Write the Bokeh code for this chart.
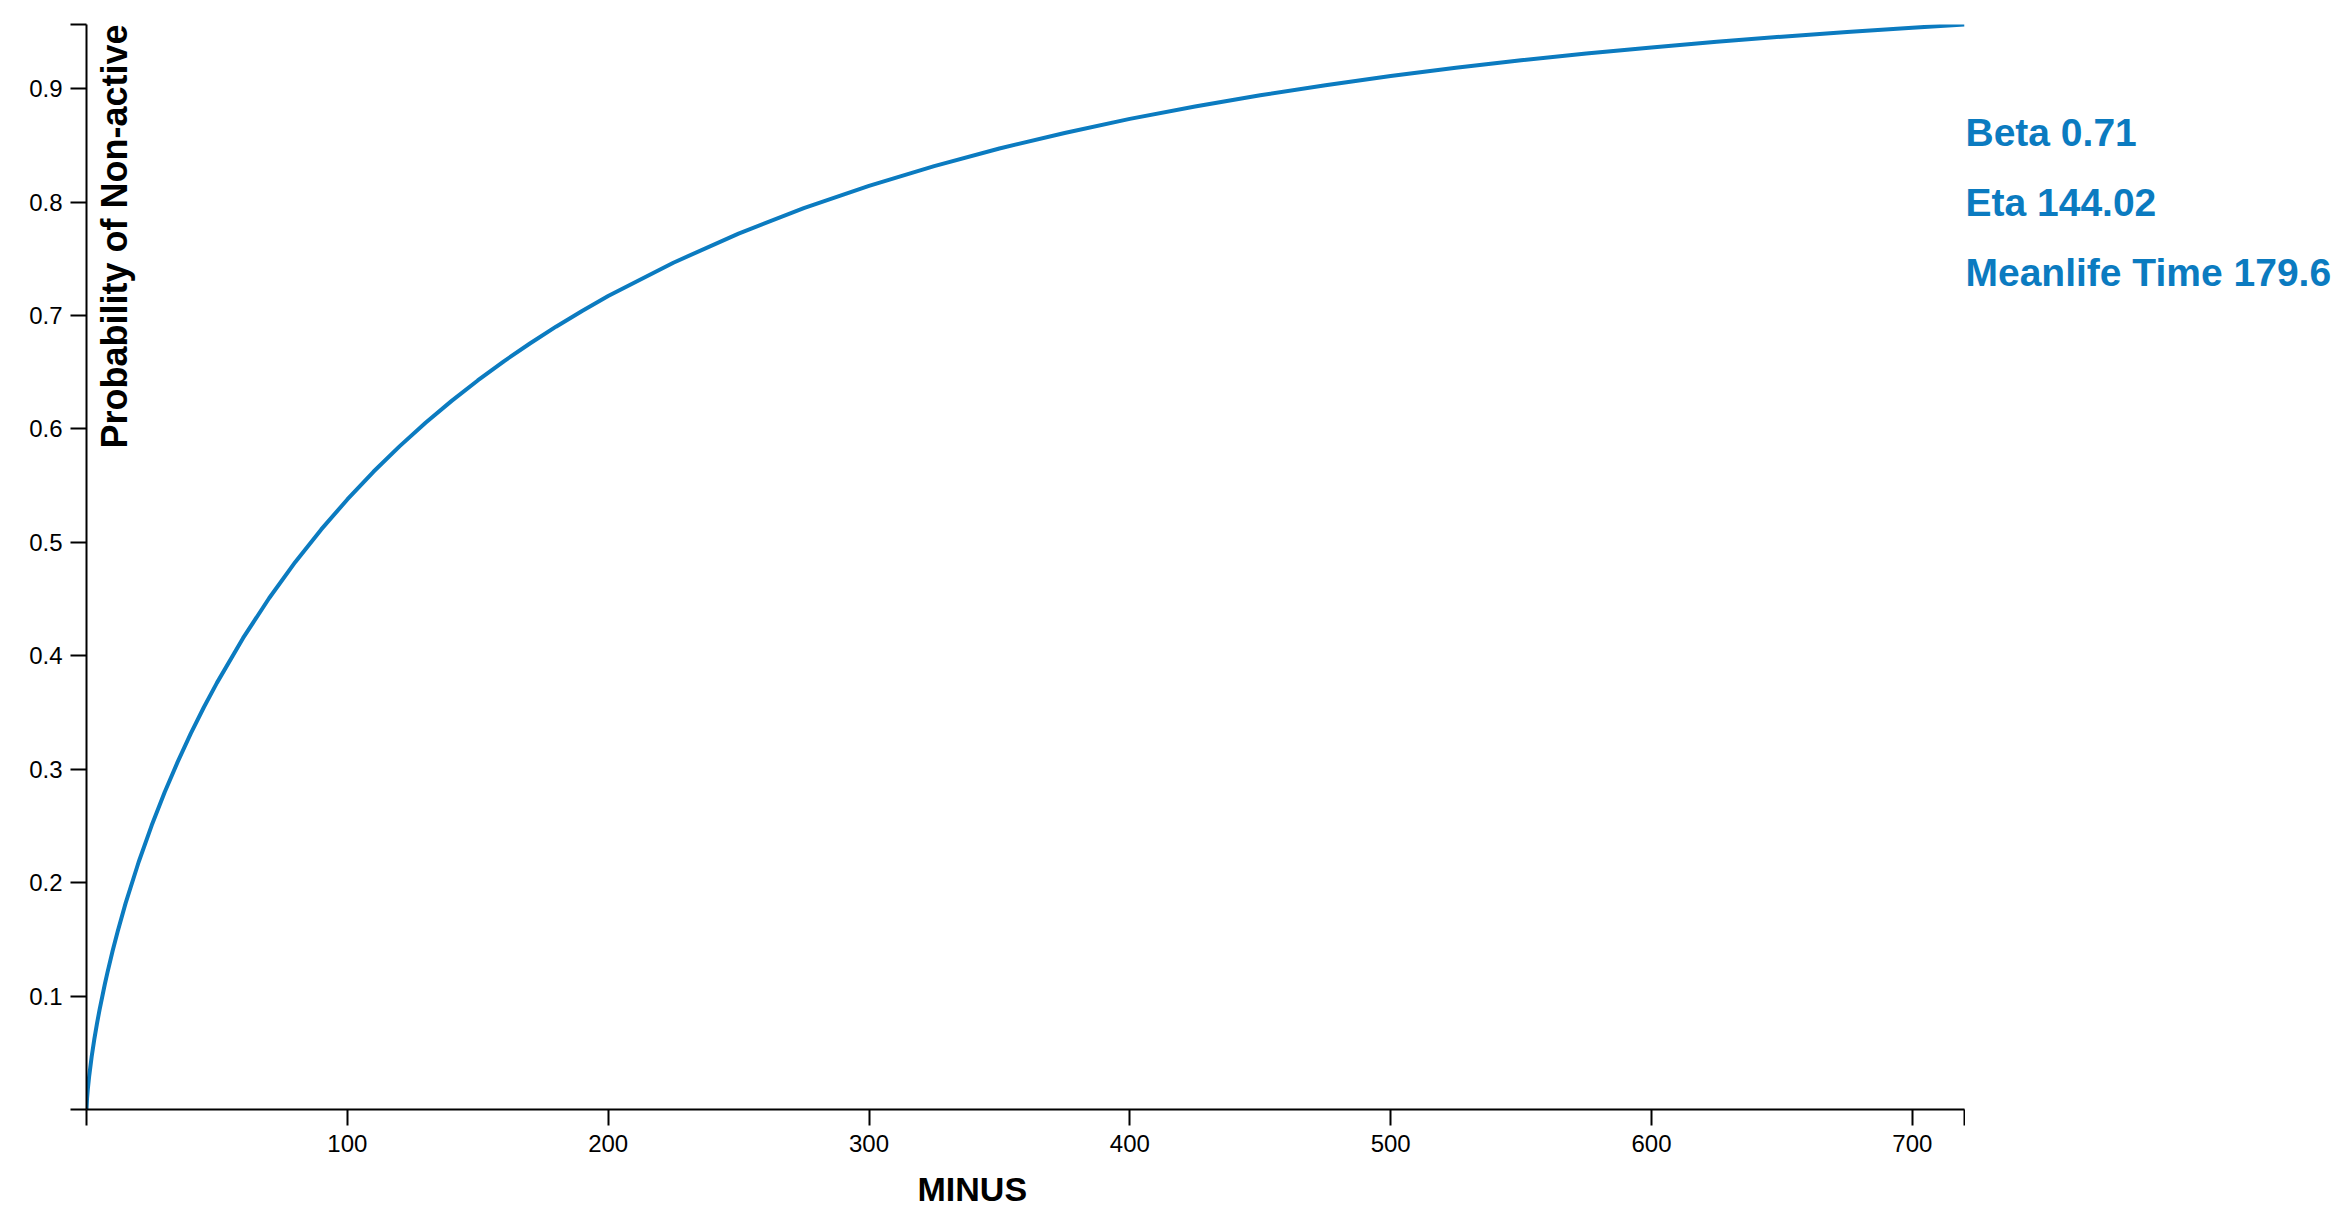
import math
from bokeh.plotting import figure
from bokeh.layouts import row
from bokeh.models import Range1d, FixedTicker, CustomJSTickFormatter, Label, Title
from bokeh.embed import file_html
from bokeh.resources import INLINE

# Values (minutes vs probability of non-active)
minutes = [0, 0.2, 0.5, 1, 2, 3, 4, 5, 7, 8, 10, 12, 15, 20, 25, 30, 35, 40, 45,
           50, 60, 70, 80, 90, 100, 110, 120, 130, 140, 150, 160, 170, 180, 190,
           200, 225, 250, 275, 300, 325, 350, 375, 400, 425, 450, 475, 500, 525,
           550, 575, 600, 625, 650, 675, 700, 720]
probability = [0.0, 0.0093, 0.0178, 0.0289, 0.0469, 0.0620, 0.0755, 0.0879,
               0.1102, 0.1205, 0.1397, 0.1574, 0.1819, 0.2182, 0.2505, 0.2799,
               0.3067, 0.3315, 0.3546, 0.3761, 0.4155, 0.4507, 0.4825, 0.5114,
               0.5378, 0.5622, 0.5846, 0.6054, 0.6247, 0.6427, 0.6596, 0.6753,
               0.6901, 0.7040, 0.7171, 0.7465, 0.7722, 0.7946, 0.8143, 0.8317,
               0.8472, 0.8609, 0.8733, 0.8842, 0.8941, 0.9030, 0.9111, 0.9183,
               0.9249, 0.9309, 0.9363, 0.9413, 0.9458, 0.9499, 0.9537, 0.9565]

x_ticks = [0, 100, 200, 300, 400, 500, 600, 700, 720]
y_ticks = [0.0, 0.1, 0.2, 0.3, 0.4, 0.5, 0.6, 0.7, 0.8, 0.9, 0.9565]

annotations = ["Beta 0.71", "Eta 144.02", "Meanlife Time 179.6"]
x_title = "MINUS"
y_title = "Probability of Non-active"

BLUE = "#0b7bc0"
FONT = "Liberation Sans"

x_max = max(minutes)
y_max = max(probability)

H = 1228
TOP, BOTTOM = 24, 119

p = figure(width=1965, height=H, output_backend="svg", toolbar_location=None,
           x_range=Range1d(0, x_max), y_range=Range1d(0, y_max),
           min_border_left=86, min_border_right=1, min_border_top=TOP,
           min_border_bottom=BOTTOM)
p.outline_line_color = None
p.xgrid.visible = False
p.ygrid.visible = False
p.background_fill_color = "white"
p.border_fill_color = "white"

p.line(minutes, probability, line_color=BLUE, line_width=4, line_join="round")

for ax in (p.xaxis[0], p.yaxis[0]):
    ax.axis_line_color = "black"
    ax.axis_line_width = 2
    ax.major_tick_line_color = "black"
    ax.major_tick_line_width = 2
    ax.major_tick_out = 16
    ax.major_tick_in = 0
    ax.minor_tick_line_color = None
    ax.major_label_text_font = FONT
    ax.major_label_text_font_size = "24px"
    ax.major_label_text_color = "black"

p.xaxis[0].ticker = FixedTicker(ticks=x_ticks)
p.xaxis[0].formatter = CustomJSTickFormatter(
    code="return (tick == 0 || tick > 710) ? '' : tick.toFixed(0);")
p.xaxis[0].major_label_standoff = 9

p.yaxis[0].ticker = FixedTicker(ticks=y_ticks)
p.yaxis[0].formatter = CustomJSTickFormatter(
    code="return (tick == 0 || tick > 0.95) ? '' : tick.toFixed(1);")
p.yaxis[0].major_label_standoff = 8

# y axis title inside the plot, reading upwards from the top of the axis
p.add_layout(Label(x=0, y=y_max, x_offset=7, y_offset=0, text=y_title,
                   angle=math.pi / 2, text_align="right", text_baseline="top",
                   text_font=FONT, text_font_style="bold", text_font_size="36px",
                   text_color="black"))

# x axis title below the axis
p.add_layout(Title(text=x_title, align="left", offset=831, standoff=26,
                   text_font=FONT, text_font_style="bold", text_font_size="34px",
                   text_color="black"), "below")

# parameter annotations in a side panel
p2 = figure(width=372, height=H, output_backend="svg", toolbar_location=None,
            x_range=Range1d(0, 1), y_range=Range1d(0, y_max),
            min_border_left=0, min_border_right=0, min_border_top=TOP,
            min_border_bottom=BOTTOM)
p2.axis.visible = False
p2.xgrid.visible = False
p2.ygrid.visible = False
p2.outline_line_color = None
p2.background_fill_color = "white"
p2.border_fill_color = "white"

for i, t in enumerate(annotations):
    p2.add_layout(Label(x=0, y=y_max, x_offset=0, y_offset=-108 - 70 * i,
                        text=t, text_align="left", text_baseline="alphabetic",
                        text_font=FONT, text_font_style="bold",
                        text_font_size="39px", text_color=BLUE))

layout = row(p, p2)
open("out.html", "w").write(file_html(layout, INLINE))
